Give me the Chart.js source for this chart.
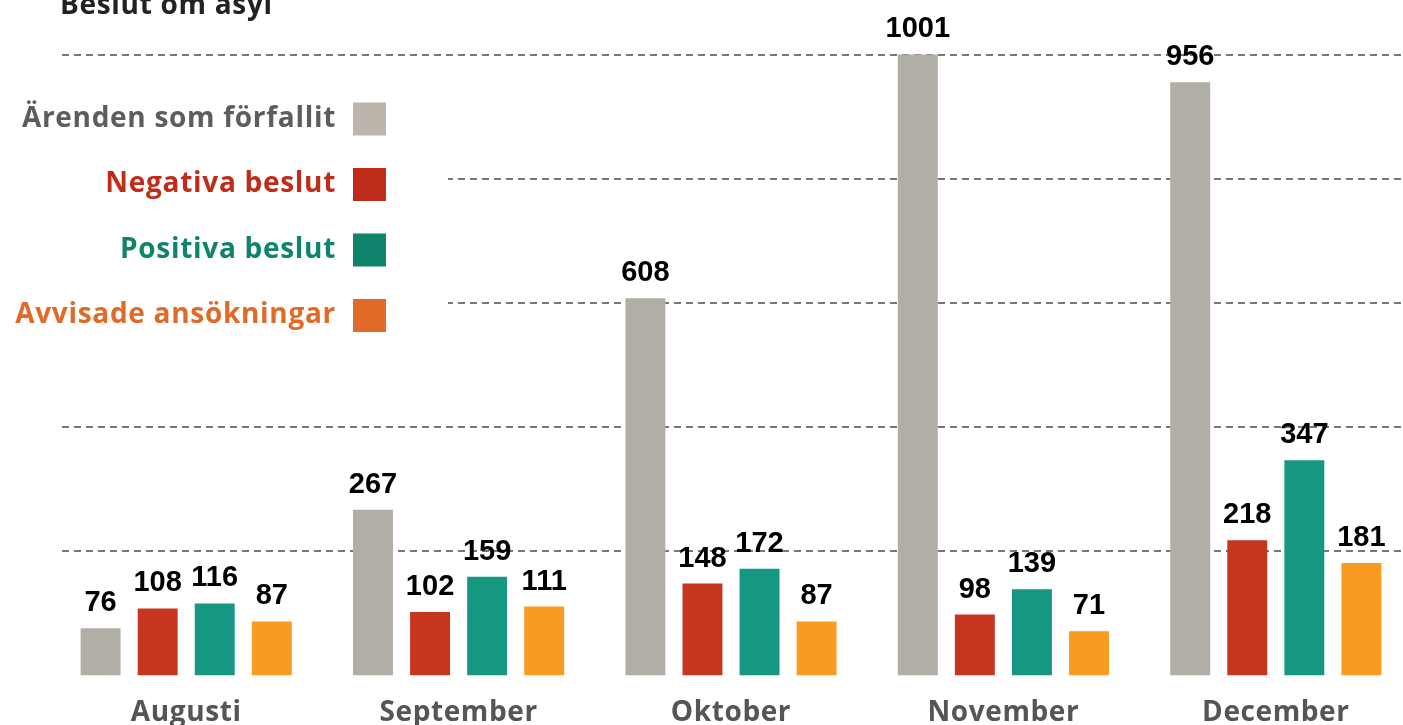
<!DOCTYPE html>
<html>
<head>
<meta charset="utf-8">
<script src="https://cdn.jsdelivr.net/npm/chart.js@4/dist/chart.umd.min.js"></script>
<style>
  html, body { margin: 0; padding: 0; background: #fff; overflow: hidden; }
  #wrap { width: 1412px; height: 725px; }
</style>
</head>
<body>
<div id="wrap"><canvas id="asylChart"></canvas></div>
<script>
// manader och serier
const months = ['Augusti', 'September', 'Oktober', 'November', 'December'];
const forfallit = [76, 267, 608, 1001, 956];
const negativa = [108, 102, 148, 98, 218];
const positiva = [116, 159, 172, 139, 347];
const avvisade = [87, 111, 87, 71, 181];
const seriesNames = ['Ärenden som förfallit', 'Negativa beslut', 'Positiva beslut', 'Avvisade ansökningar'];
const gridTicks = [200, 400, 600, 800, 1000];

const barColors = ['#b1aea6', '#c5351f', '#169782', '#f99b21'];
const legendBox = ['#bdb5ab', '#c02c1a', '#0e846c', '#e06a28'];
const legendText = ['#5d5d5d', '#c02c1a', '#0e846c', '#e06a28'];
const textFont = '"Open Sans", Lato, sans-serif';

// vit bakgrund bakom legenden + titel
const decorPlugin = {
    id: 'decor',
    beforeDraw(chart) {
        chart.ctx.letterSpacing = '0.6px';
    },
    beforeDatasetsDraw(chart) {
        const c = chart.ctx;
        c.save();
        c.fillStyle = '#fff';
        c.fillRect(0, 0, 60, chart.height);
        c.fillRect(0, 90, 448, 255);
        c.restore();
    },
    afterDraw(chart) {
        const c = chart.ctx;
        c.save();
        c.letterSpacing = '0.7px';
        c.fillStyle = '#222';
        c.font = 'bold 28px ' + textFont;
        c.textBaseline = 'alphabetic';
        c.textAlign = 'left';
        c.fillText('Beslut om asyl', 60, 14);

        // legend
        c.textBaseline = 'middle';
        c.font = 'bold 28px ' + textFont;
        c.textAlign = 'right';
        seriesNames.forEach((name, i) => {
            const y = 119 + i * 65.5;
            c.fillStyle = legendText[i];
            c.fillText(name, 336, y);
            c.fillStyle = legendBox[i];
            c.fillRect(353, y - 16.5, 33, 33);
        });
        c.restore();
    },
    afterDatasetsDraw(chart) {
        const c = chart.ctx;
        c.save();
        c.letterSpacing = '0px';
        c.fillStyle = '#000';
        c.font = 'bold 29px "Liberation Sans", Arial, sans-serif';
        c.textAlign = 'center';
        c.textBaseline = 'alphabetic';
        chart.data.datasets.forEach((ds, di) => {
            chart.getDatasetMeta(di).data.forEach((bar, i) => {
                c.fillText(ds.data[i], bar.x, bar.y - 17);
            });
        });
        c.restore();
    }
};

const ctx = document.getElementById('asylChart').getContext('2d');
const asylChart = new Chart(ctx, {
    type: 'bar',
    data: {
        labels: months,
        datasets: [forfallit, negativa, positiva, avvisade].map((vals, i) => ({
            label: seriesNames[i],
            data: vals,
            backgroundColor: barColors[i],
            categoryPercentage: 0.838,
            barPercentage: 0.70
        }))
    },
    options: {
        responsive: true,
        maintainAspectRatio: false,
        animation: false,
        layout: { padding: { left: 50, right: 0, top: 24, bottom: -18 } },
        plugins: {
            legend: { display: false },
            title: { display: false },
            tooltip: { enabled: false }
        },
        scales: {
            x: {
                grid: { display: false },
                border: { display: false },
                ticks: {
                    padding: 13,
                    color: '#555',
                    font: { family: textFont, size: 28, weight: 'bold' }
                }
            },
            y: {
                min: 0,
                max: 1050,
                afterBuildTicks: axis => { axis.ticks = gridTicks.map(v => ({ value: v })); },
                ticks: { display: false },
                grid: { color: '#777', lineWidth: 2, drawTicks: false },
                border: { display: false, dash: [7, 5] }
            }
        }
    },
    plugins: [decorPlugin]
});
</script>
</body>
</html>
